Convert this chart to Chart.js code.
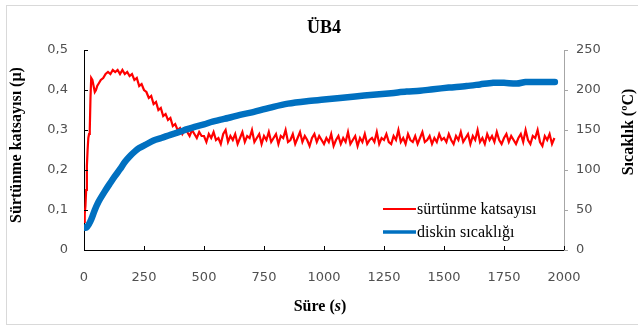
<!DOCTYPE html>
<html>
<head>
<meta charset="utf-8">
<script src="https://cdn.jsdelivr.net/npm/chart.js@4.4.1/dist/chart.umd.min.js"></script>
<style>
html,body{margin:0;padding:0;background:#fff;}
#wrap{position:relative;width:638px;height:327px;}
</style>
</head>
<body>
<div id="wrap"><canvas id="c" width="638" height="327"></canvas></div>
<script>
const chartTitle = "ÜB4";
const xTitle = "Süre (s)";
const yLeftTitle = "Sürtünme katsayısı (µ)";
const yRightTitle = "Sıcaklık (ºC)";
const seriesNames = ["sürtünme katsayısı", "diskin sıcaklığı"];

const frictionTime = [0,3,6,9,12,15,18,21,24,27,30,35,40,45,50,55,60,65,70,80,90,100,110,120,130,140,150,160,170,180,190,200,210,220,230,240,250,260,270,280,290,300,310,320,330,340,350,360,370,380,390,400,410,420,430,440,450,460,470,480,490,
500,510,520,530,540,550,560,570,580,590,600,610,620,630,640,650,660,670,680,690,700,710,720,730,740,750,760,770,780,790,800,810,820,830,840,850,860,870,880,890,900,910,920,930,940,950,960,970,980,990,
1000,1010,1020,1030,1040,1050,1060,1070,1080,1090,1100,1110,1120,1130,1140,1150,1160,1170,1180,1190,1200,1210,1220,1230,1240,1250,1260,1270,1280,1290,1300,1310,1320,1330,1340,1350,1360,1370,1380,1390,1400,1410,1420,1430,1440,1450,1460,1470,1480,1490,
1500,1510,1520,1530,1540,1550,1560,1570,1580,1590,1600,1610,1620,1630,1640,1650,1660,1670,1680,1690,1700,1710,1720,1730,1740,1750,1760,1770,1780,1790,1800,1810,1820,1830,1840,1850,1860,1870,1880,1890,1900,1910,1920,1930,1940,1950,1960];

const friction = [0.07,0.09,0.11,0.15,0.21,0.25,0.28,0.29,0.30,0.38,0.43,0.425,0.41,0.395,0.40,0.41,0.415,0.42,0.425,0.43,0.44,0.445,0.44,0.45,0.445,0.45,0.44,0.45,0.44,0.445,0.435,0.44,0.425,0.43,0.41,0.415,0.40,0.395,0.38,0.385,0.365,0.37,0.35,0.355,0.335,0.34,0.325,0.33,0.31,0.315,0.30,0.305,0.29,0.30,0.295,0.285,0.30,0.29,0.28,0.295,0.285,
0.285,0.27,0.29,0.28,0.295,0.275,0.28,0.265,0.29,0.3,0.27,0.285,0.275,0.29,0.265,0.28,0.295,0.27,0.285,0.28,0.3,0.27,0.28,0.29,0.265,0.285,0.275,0.295,0.27,0.28,0.29,0.265,0.285,0.28,0.3,0.27,0.275,0.29,0.265,0.28,0.295,0.27,0.285,0.275,0.26,0.28,0.29,0.27,0.285,0.275,
0.265,0.28,0.27,0.29,0.26,0.275,0.285,0.265,0.28,0.27,0.295,0.265,0.275,0.285,0.26,0.28,0.27,0.29,0.265,0.275,0.28,0.27,0.295,0.265,0.28,0.275,0.29,0.27,0.265,0.285,0.275,0.3,0.27,0.28,0.265,0.29,0.275,0.27,0.285,0.265,0.28,0.295,0.27,0.275,0.285,0.265,0.28,0.27,0.29,0.275,
0.28,0.27,0.29,0.275,0.265,0.285,0.275,0.295,0.27,0.28,0.29,0.265,0.285,0.275,0.3,0.27,0.28,0.265,0.29,0.275,0.285,0.27,0.295,0.275,0.265,0.28,0.29,0.27,0.285,0.275,0.265,0.28,0.29,0.27,0.3,0.275,0.265,0.285,0.28,0.3,0.27,0.26,0.285,0.275,0.29,0.265,0.28];

const tempTime = [0,10,20,30,45,60,86,110,128,150,170,190,211,230,253,290,322,360,392,430,461,500,530,570,600,650,700,789,850,928,1000,1067,1130,1205,1280,1344,1400,1455,1520,1594,1650,1705,1750,1803,1840,1871,1920,1962];
const temperature = [28,28,32,38,50,60,73,84,92,101,110,117,123,127.5,131,137,140,144,147,151,154,157,160,163,165,169,172,179,183,186,188,190,192,194,196,198,199,201,203,205,207,209,209,208,210,210,210,210];

const xTicks = [0,250,500,750,1000,1250,1500,1750,2000];
const leftTicks = [0,0.1,0.2,0.3,0.4,0.5];
const rightTicks = [0,50,100,150,200,250];

const RED = "#FF0000", BLUE = "#0070C0";
const serif = "'Liberation Serif','Times New Roman',serif";
const sans = "'DejaVu Sans',Verdana,sans-serif";

function fmt(v){ return v === 0 ? "0" : String(v).replace(".", ","); }

const decor = {
  id: "decor",
  beforeDraw(chart){
    const ctx = chart.ctx;
    ctx.save();
    ctx.fillStyle = "#fff";
    ctx.fillRect(0,0,chart.width,chart.height);
    ctx.strokeStyle = "#d9d9d9";
    ctx.lineWidth = 1;
    ctx.strokeRect(6.5,5.5,640,319);
    ctx.restore();
  },
  afterDraw(chart){
    const ctx = chart.ctx;
    const sx = chart.scales.x, sl = chart.scales.y, sr = chart.scales.y1;
    const a = chart.chartArea;
    ctx.save();
    ctx.lineWidth = 1;
    ctx.strokeStyle = "#000";
    ctx.beginPath();
    xTicks.forEach(v => { const p = Math.round(sx.getPixelForValue(v)) + 0.5; ctx.moveTo(p, a.bottom); ctx.lineTo(p, a.bottom - 4); });
    leftTicks.forEach(v => { const p = Math.round(sl.getPixelForValue(v)) + 0.5; ctx.moveTo(a.left, p); ctx.lineTo(a.left + 4, p); });
    ctx.stroke();
    ctx.strokeStyle = "#a6a6a6";
    ctx.beginPath();
    rightTicks.forEach(v => { const p = Math.round(sr.getPixelForValue(v)) + 0.5; ctx.moveTo(a.right, p); ctx.lineTo(a.right + 4, p); });
    ctx.stroke();

    ctx.fillStyle = "#000";
    ctx.textAlign = "center";
    ctx.textBaseline = "middle";
    ctx.font = "bold 18px " + serif;
    ctx.fillText(chartTitle, 324, 28);

    const f1 = "bold 16px " + serif, f2 = "bold italic 16px " + serif;
    ctx.font = f1;
    const xw1 = ctx.measureText("Süre (").width;
    ctx.font = f2;
    const xw2 = ctx.measureText("s").width;
    ctx.font = f1;
    const xw3 = ctx.measureText(")").width;
    let x0 = 320 - (xw1 + xw2 + xw3) / 2;
    ctx.textAlign = "left";
    ctx.fillText("Süre (", x0, 307);
    ctx.font = f2;
    ctx.fillText("s", x0 + xw1, 307);
    ctx.font = f1;
    ctx.fillText(")", x0 + xw1 + xw2, 307);

    ctx.textAlign = "center";
    ctx.save();
    ctx.translate(17, 145);
    ctx.rotate(-Math.PI / 2);
    ctx.fillText(yLeftTitle, 0, 0);
    ctx.restore();
    ctx.save();
    ctx.translate(629, 132);
    ctx.rotate(-Math.PI / 2);
    ctx.fillText(yRightTitle, 0, 0);
    ctx.restore();

    const ds = chart.data.datasets;
    const rows = [{y: 209, i: 1}, {y: 232, i: 0}];
    ctx.textAlign = "left";
    ctx.font = "16px " + serif;
    rows.forEach(r => {
      const d = ds[r.i];
      ctx.strokeStyle = d.borderColor;
      ctx.lineWidth = r.i === 1 ? 2 : 3.5;
      ctx.beginPath();
      ctx.moveTo(383, r.y);
      ctx.lineTo(416, r.y);
      ctx.stroke();
      ctx.fillStyle = "#000";
      ctx.fillText(d.label, 417, r.y + 1);
    });
    ctx.restore();
  }
};

new Chart(document.getElementById("c"), {
  type: "line",
  data: {
    datasets: [
      {
        label: seriesNames[1],
        data: tempTime.map((t, i) => ({x: t, y: temperature[i]})),
        yAxisID: "y1",
        borderColor: BLUE,
        backgroundColor: BLUE,
        borderWidth: 6.5,
        borderCapStyle: "round",
        borderJoinStyle: "round",
        pointRadius: 0,
        tension: 0.3,
        order: 1
      },
      {
        label: seriesNames[0],
        data: frictionTime.map((t, i) => ({x: t, y: friction[i]})),
        yAxisID: "y",
        borderColor: RED,
        backgroundColor: RED,
        borderWidth: 2.2,
        pointRadius: 0,
        tension: 0,
        order: 2
      }
    ]
  },
  options: {
    responsive: false,
    animation: false,
    events: [],
    layout: { padding: { top: 50, left: 0, right: 0, bottom: 0 } },
    plugins: { legend: { display: false }, title: { display: false }, tooltip: { enabled: false } },
    scales: {
      x: {
        type: "linear",
        min: 0, max: 2000,
        afterFit(s){ s.height = 77; },
        afterBuildTicks(s){ s.ticks = xTicks.map(v => ({value: v})); },
        grid: { display: false, drawTicks: false },
        border: { display: true, color: "#000", width: 1 },
        ticks: { padding: 20, color: "#505050", font: { family: sans, size: 13 }, maxRotation: 0, autoSkip: false, callback: v => String(v) }
      },
      y: {
        position: "left",
        min: 0, max: 0.5,
        afterFit(s){ s.width = 84; },
        afterBuildTicks(s){ s.ticks = leftTicks.map(v => ({value: v})); },
        grid: { display: false, drawTicks: false },
        border: { display: true, color: "#000", width: 1 },
        ticks: { padding: 16, color: "#505050", font: { family: sans, size: 13 }, callback: v => fmt(v) }
      },
      y1: {
        position: "right",
        min: 0, max: 250,
        afterFit(s){ s.width = 74; },
        afterBuildTicks(s){ s.ticks = rightTicks.map(v => ({value: v})); },
        grid: { display: false, drawTicks: false },
        border: { display: true, color: "#a6a6a6", width: 1 },
        ticks: { padding: 12, color: "#505050", font: { family: sans, size: 13 }, callback: v => String(v) }
      }
    }
  },
  plugins: [decor]
});
</script>
</body>
</html>
